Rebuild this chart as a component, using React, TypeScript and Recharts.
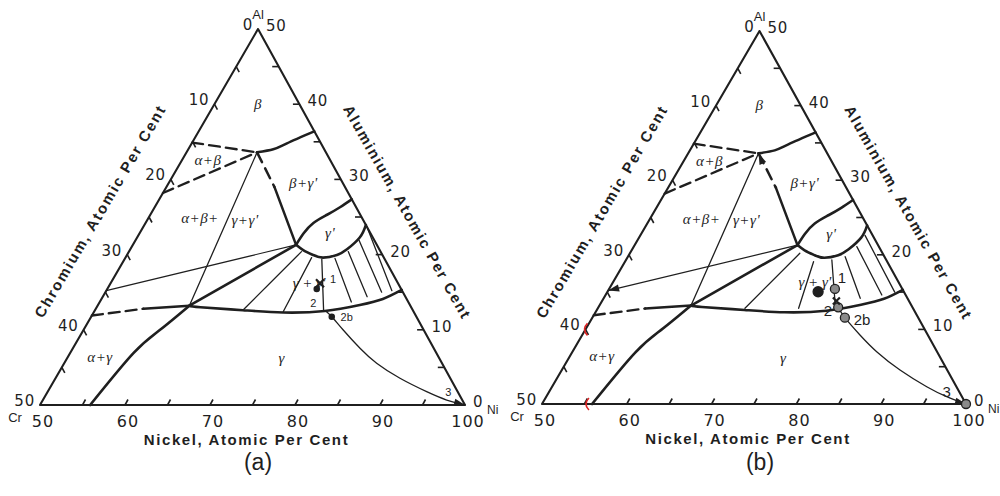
import React from 'react';
import { ScatterChart, Scatter, XAxis, YAxis } from 'recharts';

// compositions are [Ni, Al] in atomic per cent, Cr is what is left
type Pt = [number, number];
type Label = { at: Pt; text: string };

const tickSteps = [5, 10, 15, 20, 25, 30, 35, 40, 45];
const nickelTicks = [50, 60, 70, 80, 90, 100];
const chromiumTicks = [0, 10, 20, 30, 40, 50];
const aluminiumTicks = [0, 10, 20, 30, 40, 50];

const outline: Pt[] = [[50, 0], [100, 0], [50, 50], [50, 0]];

// phase boundaries
const alphaBetaTop: Pt[] = [[50, 34.9], [58.3, 33.6]];
const alphaBetaBottom: Pt[] = [[50, 28.2], [58.3, 33.6]];
const betaEdge: Pt[] = [[58.3, 33.6], [60.0, 34.0], [61.2, 34.8], [63.6, 36.4]];
const betaPrimeDashed: Pt[] = [[58.3, 33.6], [62.7, 29.0]];
const betaPrimeSolid: Pt[] = [[62.7, 29.0], [69.2, 21.3]];
const fourPhaseTie: Pt[] = [[58.3, 33.6], [60.8, 13.2]];
const alphaGammaEdge: Pt[] = [[60.8, 13.2], [59.0, 10.0], [57.45, 6.9], [55.9, 0]];
const alphaGammaDashed: Pt[] = [[50, 11.9], [55.6, 12.8]];
const alphaGammaSolid: Pt[] = [[55.6, 12.8], [60.8, 13.2]];
const longTie: Pt[] = [[50, 15.2], [69.2, 21.3]];
const threePhaseTie: Pt[] = [[60.8, 13.2], [69.2, 21.3]];
const gammaEdge: Pt[] = [
  [60.8, 13.2], [62.2, 13.0], [67.4, 12.6], [72.3, 12.3], [77.1, 12.5],
  [80.8, 13.3], [83.1, 14.1], [84.7, 15.3],
];
const gammaPrimeUpper: Pt[] = [
  [69.2, 21.3], [69.3, 22.8], [69.75, 24.2], [70.8, 25.3], [71.8, 26.3], [72.65, 27.35],
];
const gammaPrimeLower: Pt[] = [
  [69.2, 21.3], [70.4, 20.6], [71.9, 19.95], [73.25, 19.6], [74.7, 19.95],
  [75.5, 20.7], [76.2, 22.3], [76.06, 23.94],
];

// tie lines in gamma + gamma', [gamma end, gamma' end]
const tiesA: Pt[][] = [
  [[67.4, 12.6], [70.3, 20.4]],
  [[72.25, 12.4], [71.9, 19.6]],
  [[76.9, 12.6], [73.2, 19.4]],
  [[79.6, 13.7], [74.7, 19.5]],
  [[81.1, 14.4], [75.8, 20.4]],
  [[82.5, 15.0], [76.3, 21.9]],
  [[83.6, 15.2], [76.3, 23.7]],
];
const tiesB: Pt[][] = [
  [[67.35, 12.83], [70.04, 20.2]],
  [[73.68, 12.83], [72.24, 19.07]],
  [[77.77, 13.27], [74.28, 19.3]],
  [[80.26, 14.17], [75.62, 19.75]],
  [[82.58, 14.61], [76.31, 21.09]],
  [[83.9, 15.0], [76.5, 22.6]],
];

// diffusion path to the nickel corner
const pathA: Pt[] = [
  [77.2, 12.5], [78.3, 11.74], [80.56, 9.97], [83.78, 7.54], [86.76, 5.55],
  [90.53, 3.55], [94.58, 1.77], [97.51, 0.66], [100, 0],
];
const pathB: Pt[] = [
  [78.28, 12.96], [79.78, 11.57], [82.75, 9.25], [85.87, 7.01], [89.88, 4.56],
  [94.18, 2.32], [97.22, 0.98], [100, 0],
];

const regionLabels: Label[] = [
  { at: [55.12, 40.03], text: 'β' },
  { at: [53.05, 32.58], text: 'α+β' },
  { at: [65.82, 29.56], text: "β+γ'" },
  { at: [56.08, 24.83], text: 'α+β+' },
  { at: [61.5, 24.6], text: "γ+γ'" },
  { at: [72.41, 22.83], text: "γ'" },
  { at: [53.77, 6.42], text: 'α+γ' },
  { at: [75.25, 6.21], text: 'γ' },
];
const twoPhaseLabelA: Label[] = [{ at: [73.33, 16.22], text: "γ + γ'" }];
const twoPhaseLabelB: Label[] = [{ at: [73.78, 16.35], text: "γ + γ'" }];

const pointLabelsA: Label[] = [
  { at: [75.87, 16.76], text: '1' },
  { at: [75.21, 13.52], text: '2' },
  { at: [80.06, 11.74], text: '2b' },
  { at: [97.13, 1.77], text: '3' },
];
const pointLabelsB: Label[] = [
  { at: [76.63, 17.02], text: '1' },
  { at: [77.25, 12.6], text: '2' },
  { at: [81.92, 11.33], text: '2b' },
  { at: [96.87, 1.65], text: '3' },
];

const dotsA: Pt[] = [[74.64, 15.43], [78.3, 11.74]];
const crossA: Pt[] = [[74.64, 16.18]];
const dotsB: Pt[] = [[74.84, 15.05]];
const openB: Pt[] = [[76.63, 15.42], [78.28, 12.96], [79.78, 11.57], [100, 0]];
const crossB: Pt[] = [[77.63, 13.81]];
const redMarksB: Pt[] = [[50, 10], [55.3, 0]];

const SKEW = 0.513;
const INK = '#1f1f1f';
const NUM_FONT = 'DejaVu Sans, Liberation Sans, sans-serif';
const toXY = (p: Pt) => ({ x: p[0] + SKEW * p[1], y: p[1] });
const noDot = () => <g />;

function polyline(key: string, pts: Pt[], width: number, dash?: string, curve?: boolean) {
  return (
    <Scatter
      key={key}
      data={pts.map(toXY)}
      fill="none"
      shape={noDot}
      isAnimationActive={false}
      line={{ stroke: INK, strokeWidth: width, strokeDasharray: dash, strokeLinecap: 'round', strokeLinejoin: 'round' }}
      lineJointType={curve ? 'natural' : 'linear'}
    />
  );
}

type TextStyle = {
  size: number; dx?: number; dy?: number; anchor?: 'start' | 'middle' | 'end';
  italic?: boolean; bold?: boolean; rotate?: number; family?: string; spacing?: number;
};

function texts(key: string, items: Label[], s: TextStyle) {
  const data = items.map((l) => ({ ...toXY(l.at), text: l.text }));
  const shape = (p: any) => {
    const x = p.cx + (s.dx ?? 0);
    const y = p.cy + (s.dy ?? 0);
    return (
      <text
        x={x}
        y={y}
        textAnchor={s.anchor ?? 'middle'}
        dominantBaseline="central"
        fontSize={s.size}
        fontStyle={s.italic ? 'italic' : 'normal'}
        fontWeight={s.bold ? 'bold' : 'normal'}
        fontFamily={s.family ?? 'Liberation Sans, Arial, sans-serif'}
        letterSpacing={s.spacing ?? 0}
        fill={INK}
        transform={s.rotate ? `rotate(${s.rotate} ${x} ${y})` : undefined}
      >
        {p.payload.text}
      </text>
    );
  };
  return <Scatter key={key} data={data} shape={shape} isAnimationActive={false} />;
}

function ticks(key: string, pts: Pt[], dx: number, dy: number) {
  const shape = (p: any) => (
    <line x1={p.cx} y1={p.cy} x2={p.cx + dx} y2={p.cy + dy} stroke={INK} strokeWidth={1.6} />
  );
  return <Scatter key={key} data={pts.map(toXY)} shape={shape} isAnimationActive={false} />;
}

function arrow(key: string, at: Pt, angle: number) {
  const shape = (p: any) => (
    <path d="M0,0 L-11,-3.6 L-11,3.6 Z" fill={INK} transform={`translate(${p.cx},${p.cy}) rotate(${angle})`} />
  );
  return <Scatter key={key} data={[toXY(at)]} shape={shape} isAnimationActive={false} />;
}

function dots(key: string, pts: Pt[], r: number, fill: string) {
  const shape = (p: any) => <circle cx={p.cx} cy={p.cy} r={r} fill={fill} stroke={INK} strokeWidth={1.3} />;
  return <Scatter key={key} data={pts.map(toXY)} shape={shape} isAnimationActive={false} />;
}

function crosses(key: string, pts: Pt[], size: number) {
  const shape = (p: any) => (
    <path
      d={`M${p.cx - size},${p.cy - size} L${p.cx + size},${p.cy + size} M${p.cx + size},${p.cy - size} L${p.cx - size},${p.cy + size}`}
      stroke={INK}
      strokeWidth={2.2}
    />
  );
  return <Scatter key={key} data={pts.map(toXY)} shape={shape} isAnimationActive={false} />;
}

function redMarks(key: string, pts: Pt[]) {
  const shape = (p: any) => (
    <path d={`M${p.cx + 2},${p.cy - 6} Q${p.cx - 4},${p.cy} ${p.cx + 2},${p.cy + 6}`} stroke="#d22" strokeWidth={1.6} fill="none" />
  );
  return <Scatter key={key} data={pts.map(toXY)} shape={shape} isAnimationActive={false} />;
}

type PanelProps = {
  variant: 'a' | 'b';
  left: number;
  width: number;
  margin: { top: number; right: number; bottom: number; left: number };
};

function Panel({ variant, left, width, margin }: PanelProps) {
  const b = variant === 'b';
  const ties = b ? tiesB : tiesA;
  return (
    <div style={{ position: 'absolute', left, top: 0 }}>
      <ScatterChart width={width} height={496} margin={margin}>
        <XAxis type="number" dataKey="x" domain={[50, 100]} hide />
        <YAxis type="number" dataKey="y" domain={[0, 50]} hide />
        {polyline('outline', outline, 2.1)}
        {ticks('tb', tickSteps.map((t) => [50 + t, 0] as Pt), 3, -5.5)}
        {ticks('tl', tickSteps.map((t) => [50, 50 - t] as Pt), 3, 5.5)}
        {ticks('tr', tickSteps.map((t) => [100 - t, t] as Pt), -6.5, 0)}

        {polyline('ab1', alphaBetaTop, 2.3, '11 6')}
        {polyline('ab2', alphaBetaBottom, 2.3, '11 6')}
        {polyline('be', betaEdge, 2.5, undefined, true)}
        {polyline('bpd', betaPrimeDashed, 2.5, '11 7')}
        {polyline('bps', betaPrimeSolid, 2.5)}
        {polyline('fpt', fourPhaseTie, 1.3)}
        {polyline('age', alphaGammaEdge, 2.6, undefined, true)}
        {polyline('agd', alphaGammaDashed, 2.4, '11 6')}
        {polyline('ags', alphaGammaSolid, 2.6)}
        {polyline('lt', longTie, 1.2)}
        {polyline('tpt', threePhaseTie, 2.6)}
        {polyline('ge', gammaEdge, 2.6, undefined, true)}
        {polyline('gpu', gammaPrimeUpper, 2.6, undefined, true)}
        {polyline('gpl', gammaPrimeLower, 2.6, undefined, true)}
        {ties.map((t, i) => polyline(`tie${i}`, t, 1.3))}
        {polyline('path', b ? pathB : pathA, 1.3, undefined, true)}
        {arrow('arrNi', [100, 0], 15)}
        {b && arrow('arrF', [50, 15.2], 166)}
        {b && arrow('arrP1', [58.3, 33.6], -113)}

        {texts('lblB', nickelTicks.map((v) => ({ at: [v, 0] as Pt, text: String(v) })), { size: 16, dx: 3, dy: 16, family: NUM_FONT, spacing: 1 })}
        {texts('lblL', chromiumTicks.map((c) => ({ at: [50, 50 - c] as Pt, text: String(c) })), { size: 15, dx: -5, dy: -4, anchor: 'end', family: NUM_FONT, spacing: 0.8 })}
        {texts('lblR', aluminiumTicks.map((a) => ({ at: [100 - a, a] as Pt, text: String(a) })), { size: 15, dx: 8, dy: -3, anchor: 'start', family: NUM_FONT, spacing: 0.8 })}
        {texts('al', [{ at: [50, 50], text: 'Al' }], { size: 13, dy: -15 })}
        {texts('cr', [{ at: [50, 0], text: 'Cr' }], { size: 13, dx: -25, dy: 12 })}
        {texts('ni', [{ at: [100, 0], text: 'Ni' }], { size: 12, dx: 22, dy: 5, anchor: 'start' })}
        {texts('tNi', [{ at: [75, 0], text: 'Nickel, Atomic Per Cent' }], { size: 15, bold: true, spacing: 1.6, dx: -6, dy: 34 })}
        {texts('tCr', [{ at: [50, 25], text: 'Chromium, Atomic Per Cent' }], { size: 15, bold: true, spacing: 1.8, dx: -49, dy: -6, rotate: -59.5 })}
        {texts('tAl', [{ at: [75, 25], text: 'Aluminium, Atomic Per Cent' }], { size: 15, bold: true, spacing: 1.6, dx: 46, dy: -5, rotate: 60.5 })}

        {texts('regions', regionLabels, { size: 15, italic: true, family: 'Liberation Serif, serif', spacing: 0.5 })}
        {texts('twoPhase', b ? twoPhaseLabelB : twoPhaseLabelA, { size: 15, italic: true, family: 'Liberation Serif, serif' })}
        {texts('points', b ? pointLabelsB : pointLabelsA, { size: b ? 15 : 11 })}

        {!b && dots('dA', dotsA, 2.6, INK)}
        {!b && crosses('xA', crossA, 4)}
        {b && dots('dB', dotsB, 5, INK)}
        {b && dots('oB', openB, 4.5, '#8a8a8a')}
        {b && crosses('xB', crossB, 3.5)}
        {b && redMarks('red', redMarksB)}
      </ScatterChart>
    </div>
  );
}

const panelLabel: React.CSSProperties = {
  position: 'absolute',
  top: 449,
  width: 60,
  textAlign: 'center',
  fontFamily: 'Liberation Sans, Arial, sans-serif',
  fontSize: 23,
  color: INK,
};

export default function App() {
  return (
    <div style={{ position: 'absolute', left: 0, top: 0, width: 1000, height: 496, background: '#fff', overflow: 'hidden' }}>
      <Panel variant="a" left={0} width={500} margin={{ top: 29, right: 35, bottom: 91, left: 40 }} />
      <Panel variant="b" left={502} width={498} margin={{ top: 31, right: 34, bottom: 92, left: 40 }} />
      <div style={{ ...panelLabel, left: 228 }}>(a)</div>
      <div style={{ ...panelLabel, left: 730 }}>(b)</div>
    </div>
  );
}
